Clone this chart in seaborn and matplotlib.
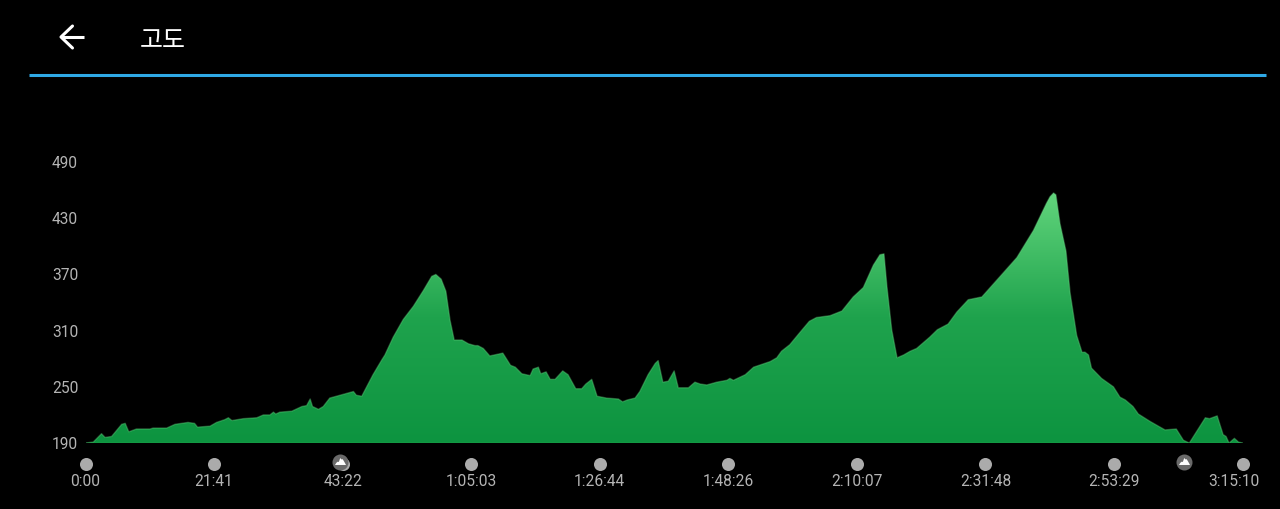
import numpy as np
import pandas as pd
import matplotlib
matplotlib.use("Agg")
import matplotlib.pyplot as plt
import seaborn as sns
from matplotlib.colors import LinearSegmentedColormap
from matplotlib.lines import Line2D
from matplotlib.transforms import ScaledTranslation

# elevation profile
minutes = [0, 1.3, 2.7, 3.3, 4.4, 6.1, 6.7, 7.3, 8.6, 10.9, 11.4, 13.7, 15.1, 17.3, 18.4, 18.9,
           21.0, 22.1, 23.5, 24.1, 24.7, 26.6, 28.9, 30.0, 31.1, 31.7, 32.1, 32.8, 34.8, 36.5, 37.3, 37.9,
           38.3, 39.3, 40.1, 41.2, 43.5, 45.2, 45.7, 46.6, 48.5, 50.0, 50.5, 51.9, 53.6, 55.3, 57.0, 58.4,
           59.1, 60.0, 60.8, 61.5, 62.2, 63.5, 64.6, 65.7, 66.2, 67.1, 68.2, 70.4, 71.7, 72.5, 73.6, 75.0,
           75.5, 76.4, 76.8, 77.7, 78.4, 79.2, 80.5, 81.4, 82.7, 83.7, 84.4, 85.4, 86.3, 87.9, 89.9, 90.6,
           91.4, 92.7, 93.5, 94.9, 96.1, 96.6, 97.4, 98.3, 99.3, 100.0, 101.7, 102.8, 103.7, 104.8, 106.5, 108.2,
           108.7, 109.3, 111.3, 112.7, 114.1, 115.5, 116.6, 117.4, 118.8, 120.5, 122.1, 123.3, 125.6, 127.6, 129.5, 131.2,
           132.9, 134.0, 134.7, 135.2, 136.0, 136.9, 138.0, 139.1, 140.2, 142.4, 143.7, 145.5, 147.0, 148.9, 151.2, 154.3,
           157.1, 159.9, 162.1, 162.7, 163.3, 163.7, 164.4, 165.4, 166.1, 167.2, 168.1, 168.6, 169.2, 169.7, 171.4, 173.4, 174.5,
           175.4, 176.7, 177.6, 179.6, 182.1, 184.0, 185.2, 186.2, 187.2, 188.9, 189.6, 190.9, 191.9, 192.4, 192.9, 193.8,
           194.5, 195.17]
altitude = [190, 191, 200, 196, 197, 210, 211, 202, 205, 205, 206, 206, 210, 212, 211, 207,
            208, 212, 215, 217, 214, 216, 217, 220, 220, 223, 221, 223, 224, 229, 230, 237,
            229, 226, 229, 238, 242, 245, 241, 240, 263, 279, 284, 303, 322, 336, 353, 368,
            370, 365, 352, 321, 300, 300, 296, 294, 294, 291, 283, 286, 273, 271, 264, 262,
            269, 271, 264, 266, 258, 258, 267, 263, 248, 248, 253, 258, 240, 238, 237, 234,
            236, 238, 245, 263, 275, 278, 255, 256, 267, 249, 249, 255, 253, 252, 255, 257,
            259, 257, 263, 271, 274, 277, 281, 288, 295, 308, 320, 324, 326, 331, 346, 356,
            380, 391, 392, 357, 311, 281, 284, 288, 291, 303, 311, 317, 330, 343, 346, 368,
            388, 417, 446, 453, 457, 455, 424, 395, 350, 305, 287, 287, 284, 270, 259, 250, 239,
            236, 229, 221, 213, 204, 205, 193, 190, 200, 217, 216, 219, 199, 197, 190, 195,
            191, 190]

y_ticks = [190, 250, 310, 370, 430, 490]
x_ticks = [0, 21.68, 43.37, 65.05, 86.73, 108.43, 130.12, 151.8, 173.48, 195.17]
x_labels = ["0:00", "21:41", "43:22", "1:05:03", "1:26:44", "1:48:26", "2:10:07", "2:31:48", "2:53:29", "3:15:10"]
summit_times = [43.0, 185.3]

W, H = 1280, 509
df = pd.DataFrame({"minutes": minutes, "altitude": altitude})

sns.set_theme(style="dark", rc={"figure.facecolor": "black", "axes.facecolor": "black"})
plt.rcParams["font.family"] = ["Roboto", "Noto Sans CJK KR", "DejaVu Sans"]

fig = plt.figure(figsize=(W / 100, H / 100), dpi=100)
ax = fig.add_axes([85.5 / W, (H - 443) / H, 1157 / W, 281 / H])

# gradient fill clipped to the profile
green = LinearSegmentedColormap.from_list("elev", ["#0D9440", "#1FA34D", "#63D67D"])
band = ax.fill_between(df["minutes"], 190, df["altitude"], color="none", lw=0)
img = ax.imshow(np.linspace(1, 0, 256).reshape(-1, 1), extent=[0, 195.17, 190, 460], aspect="auto", cmap=green, vmin=0, vmax=1)
img.set_clip_path(band.get_paths()[0], transform=ax.transData)

sns.lineplot(data=df, x="minutes", y="altitude", ax=ax, color="#6FDC88", lw=1, alpha=0.35, errorbar=None, estimator=None)
ax.axhline(190, color="#2CAB52", lw=1)

ax.set_xlim(0, 195.17)
ax.set_ylim(190, 490)
ax.set_xlabel("")
ax.set_ylabel("")
ax.set_xticks(x_ticks, x_labels)
ax.set_yticks(y_ticks)
ax.tick_params(axis="x", colors="#B4B4B4", labelsize=11.2, length=0, pad=22)
ax.tick_params(axis="y", colors="#B4B4B4", labelsize=11.2, length=0, pad=24.1)
for lab in ax.get_yticklabels():
    lab.set_ha("left")
ax.grid(False)
sns.despine(ax=ax, left=True, bottom=True, top=True, right=True)

# last time label is pulled in from the edge
last = ax.get_xticklabels()[-1]
last.set_transform(last.get_transform() + ScaledTranslation(-9 / 100, 0, fig.dpi_scale_trans))

# dots under the axis, y in axes fraction
dot_y = -21 / 281
ax.scatter(x_ticks, [dot_y] * len(x_ticks), s=88, c="#ABABAB", lw=0, clip_on=False,
           transform=ax.get_xaxis_transform(), zorder=5)
icon_y = -18.5 / 281
ax.scatter(summit_times, [icon_y] * 2, s=133, c="#6A6A6A", lw=0, clip_on=False,
           transform=ax.get_xaxis_transform(), zorder=6)
peak = [(-1, -0.45), (-0.75, -0.05), (-0.5, 0.15), (-0.3, 0.1), (-0.05, 0.8), (0.2, 0.55), (0.4, 0.6), (0.7, 0.1), (1, -0.45)]
ax.scatter(summit_times, [icon_y] * 2, s=63, c="white", marker=peak, lw=0, clip_on=False,
           transform=ax.get_xaxis_transform(), zorder=7)

# header
fig.add_artist(Line2D([29 / W, 1266 / W], [1 - 74.5 / H] * 2, color="#2FA9E6", lw=2.2, solid_capstyle="butt"))
fig.add_artist(Line2D([61 / W, 84 / W], [1 - 37 / H] * 2, color="white", lw=2.2, solid_capstyle="butt"))
fig.add_artist(Line2D([72.5 / W, 61 / W, 72.5 / W], [1 - 26 / H, 1 - 37 / H, 1 - 48 / H], color="white", lw=2.2))
fig.text(140 / W, 1 - 41 / H, "고도", color="white", fontsize=18, va="center", ha="left", fontweight="medium")

fig.savefig("out.png", dpi=100, facecolor="black")
